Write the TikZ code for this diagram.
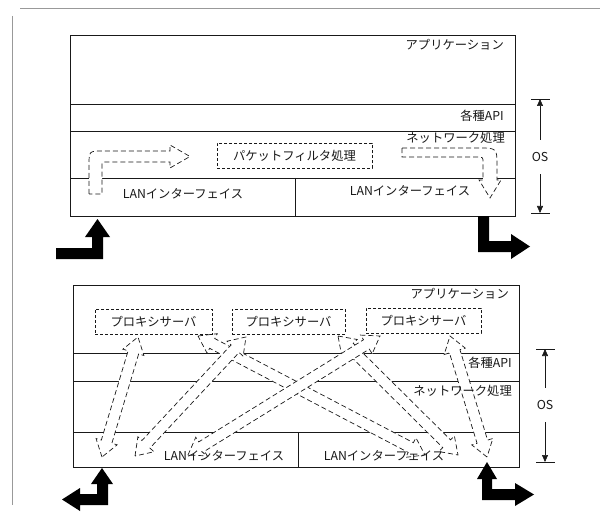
\documentclass[tikz,border=0pt]{standalone}
\usepackage{fontspec}
\newfontfamily\jp{Noto Sans CJK JP}
\usetikzlibrary{arrows.meta}
\def\hk{16}\def\hh{11}\def\hs{5.5}
\newcommand\dblarrow[2]{%
  \path (#1); \pgfgetlastxy{\hax}{\hay}%
  \path (#2); \pgfgetlastxy{\hbx}{\hby}%
  \pgfmathsetmacro\hlen{veclen(\hbx-\hax,\hby-\hay)}%
  \pgfmathsetmacro\hang{atan2(\hby-\hay,\hbx-\hax)}%
  \pgfmathsetmacro\hlk{\hlen-\hk}%
  \begin{scope}[shift={(\hax,\hay)},rotate=\hang]
    \draw[hollow] (0pt,0pt) -- (\hk pt,\hh pt) -- (\hk pt,\hs pt) -- (\hlk pt,\hs pt)
      -- (\hlk pt,\hh pt) -- (\hlen pt,0pt) -- (\hlk pt,-\hh pt) -- (\hlk pt,-\hs pt)
      -- (\hk pt,-\hs pt) -- (\hk pt,-\hh pt) -- cycle;
  \end{scope}}
\begin{document}
\begin{tikzpicture}[x=1pt,y=-1pt,
  every node/.style={font=\jp\fontsize{12.3}{14}\selectfont, inner sep=1pt, text=black!90},
  frame/.style={draw=black!90, line width=0.75pt},
  layer/.style={draw=black!90, line width=0.65pt},
  dbox/.style={draw=black!90, dash pattern=on 3pt off 2pt, line width=0.65pt, minimum height=25pt},
  hollow/.style={draw=black!90, fill=white, line width=0.7pt, dash pattern=on 5pt off 3pt},
  blk/.style={fill=black},
  osline/.style={draw=black!90, line width=0.55pt, {Triangle[length=7pt,width=6pt]}-{Triangle[length=7pt,width=6pt]}},
  page/.style={draw=black!40, line width=0.5pt}]
\useasboundingbox (0,0) rectangle (604,521);
\fill[white] (0,0) rectangle (604,521);
% page border
\draw[page] (20,8) -- (600,8);
\draw[page] (12,16) -- (12,505);

% ===== top diagram =====
\draw[frame] (70,35) rectangle (515,216);
\draw[layer] (70,104) -- (515,104);
\draw[layer] (70,131) -- (515,131);
\draw[layer] (70,178) -- (515,178);
\draw[layer] (295,178) -- (295,216);
% hollow dashed arrows
\draw[hollow] (89,194) -- (89,165) .. controls (89,151) .. (103,151) -- (170,151)
  -- (170,145) -- (190,156.5) -- (170,168) -- (170,162) -- (106,162)
  .. controls (102,162) .. (102,166) -- (102,194) -- cycle;
\draw[hollow] (402,148) -- (478,148) .. controls (497,148) .. (497,166) -- (497,180)
  -- (501,180) -- (490,198) -- (479,180) -- (483,180) -- (483,163)
  .. controls (483,157) .. (477,157) -- (402,157) -- cycle;
\node[anchor=east] (app1) at (505,45) {アプリケーション};
\node[anchor=east] (api1) at (505,116) {各種API};
\node[anchor=east] (net1) at (506,138) {ネットワーク処理};
\node[dbox, minimum width=155pt] (pf) at (294.5,156) {パケットフィルタ処理};
\node (lanL1) at (183,194) {LANインターフェイス};
\node (lanR1) at (410,191) {LANインターフェイス};
% OS bracket
\draw[layer] (531,99) -- (550,99);
\draw[layer] (531,213) -- (550,213);
\draw[osline] (540,99) -- (540,213);
\node[fill=white, inner ysep=12pt] (os1) at (540,157) {OS};
% black block arrows
\fill[blk] (56,248) -- (92,248) -- (92,237) -- (85,237) -- (97.5,219) -- (110,237)
  -- (103,237) -- (103,259) -- (56,259) -- cycle;
\fill[blk] (478,216) -- (489,216) -- (489,241) -- (511,241) -- (511,234) -- (530,246.5)
  -- (511,259) -- (511,252) -- (478,252) -- cycle;

% ===== bottom diagram =====
\draw[frame] (73,285) rectangle (519,467);
\draw[layer] (73,353) -- (519,353);
\draw[layer] (73,381) -- (519,381);
\draw[layer] (73,432) -- (519,432);
\draw[layer] (298,432) -- (298,467);
\coordinate (aL) at (102,457);  \coordinate (aP) at (138,337);
\coordinate (eL) at (135,456);  \coordinate (eP) at (246,337);
\coordinate (dL) at (188,455);  \coordinate (dP) at (380,336);
\coordinate (cP) at (198,336);  \coordinate (cR) at (425,455);
\coordinate (fP) at (338,336);  \coordinate (fR) at (458,455);
\coordinate (bP) at (450,336);  \coordinate (bR) at (487,457);
\dblarrow{aL}{aP}
\dblarrow{cP}{cR}
\dblarrow{fP}{fR}
\dblarrow{eL}{eP}
\dblarrow{dL}{dP}
\dblarrow{bR}{bP}
\node[anchor=east] (app2) at (510,294) {アプリケーション};
\node[anchor=east] (api2) at (513,363) {各種API};
\node[anchor=east] (net2) at (513,391) {ネットワーク処理};
\node[dbox, minimum width=117pt] (p1) at (153.5,321.5) {プロキシサーバ};
\node[dbox, minimum width=113pt] (p2) at (288.5,321.5) {プロキシサーバ};
\node[dbox, minimum width=115pt] (p3) at (423.5,320.5) {プロキシサーバ};
\node (lanL2) at (224,456) {LANインターフェイス};
\node (lanR2) at (384,456) {LANインターフェイス};
% OS bracket
\draw[layer] (536,349) -- (555,349);
\draw[layer] (536,462) -- (555,462);
\draw[osline] (545,349) -- (545,462);
\node[fill=white, inner ysep=12pt] (os2) at (545,405) {OS};
% black block arrows
\fill[blk] (102,468) -- (113,484) -- (108,484) -- (108,505) -- (80,505) -- (80,511)
  -- (62,499.5) -- (80,488) -- (80,494) -- (97,494) -- (97,484) -- (91,484) -- cycle;
\fill[blk] (487,462) -- (497,479) -- (492,479) -- (492,489) -- (515,489) -- (515,483)
  -- (534,494.5) -- (515,506) -- (515,500) -- (482,500) -- (482,479) -- (477,479) -- cycle;
\end{tikzpicture}
\end{document}
